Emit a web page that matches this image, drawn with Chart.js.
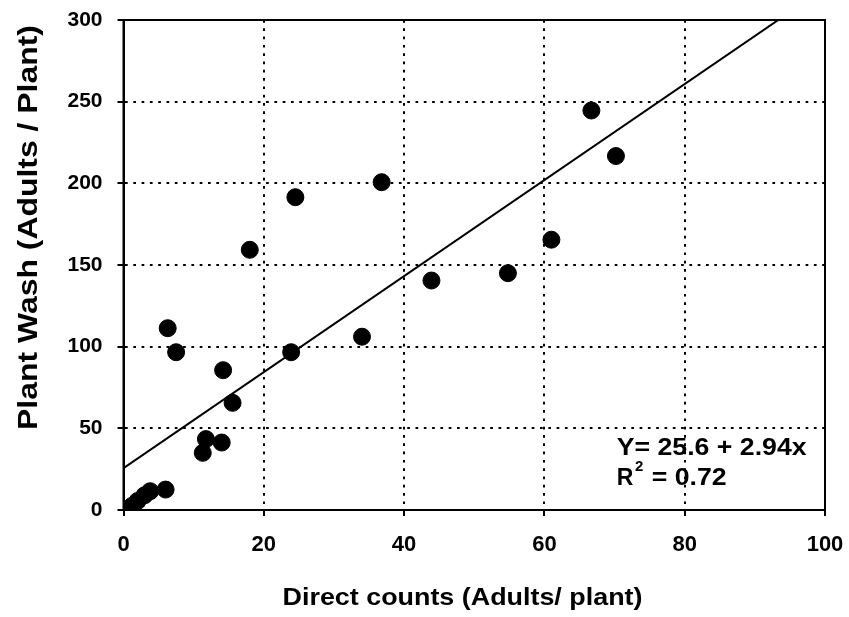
<!DOCTYPE html>
<html>
<head>
<meta charset="utf-8">
<title>Plant wash vs direct counts</title>
<script src="https://cdn.jsdelivr.net/npm/chart.js@4.4.1/dist/chart.umd.min.js"></script>
<style>
  html, body { margin: 0; padding: 0; background: #fff; }
  #wrap { width: 849px; height: 617px; }
</style>
</head>
<body>
<div id="wrap"><canvas id="scatter" width="849" height="617"></canvas></div>
<script>
// direct counts (x) and plant wash counts (y), one entry per sample
const directCounts = [1.2, 2.0, 3.0, 3.8, 6.0, 6.3, 7.5, 11.3, 11.75, 14.0, 14.2, 15.55, 18.0, 23.9, 24.5, 34.0, 36.8, 43.9, 54.8, 61.0, 66.7, 70.2];
const plantWash = [2.5, 5.5, 9, 11.5, 12.5, 111.3, 96.6, 35.0, 43.4, 41.3, 85.6, 65.6, 159.3, 96.6, 191.5, 106.1, 200.7, 140.5, 145.0, 165.5, 244.6, 216.7];

// fitted regression
const intercept = 25.6;
const slope = 2.94;
const rSquared = "0.72";

const xTicks = [0, 20, 40, 60, 80, 100];
const yTicks = [0, 50, 100, 150, 200, 250, 300];

const FONT = "'Liberation Sans', Arial, sans-serif";

const points = directCounts.map((x, i) => ({ x: x, y: plantWash[i] }));
const fitLine = [0, 100].map((x) => ({ x: x, y: intercept + slope * x }));

// text drawn a little wider than the font's own proportions
function wideText(ctx, text, x, y, size, stretch, align) {
  ctx.save();
  ctx.font = "bold " + size + "px " + FONT;
  ctx.translate(x, y);
  ctx.scale(stretch, 1);
  ctx.textAlign = align || "left";
  ctx.fillText(text, 0, 0);
  ctx.restore();
}

// frame, axis titles and the fit equation
const decorations = {
  id: "decorations",
  afterDraw(chart) {
    const ctx = chart.ctx;
    const a = chart.chartArea;
    ctx.save();
    ctx.strokeStyle = "#000";
    ctx.lineWidth = 2;
    ctx.strokeRect(a.left, a.top, a.right - a.left, a.bottom - a.top);

    ctx.fillStyle = "#000";
    ctx.textBaseline = "alphabetic";
    wideText(ctx, "Direct counts (Adults/ plant)", 462.5, 605, 24, 1.12, "center");

    ctx.save();
    ctx.translate(37, 227.5);
    ctx.rotate(-Math.PI / 2);
    wideText(ctx, "Plant Wash (Adults / Plant)", 0, 0, 28, 1.14, "center");
    ctx.restore();

    wideText(ctx, "Y= " + intercept + " + " + slope + "x", 616.7, 455, 23, 1.16);
    wideText(ctx, "R", 616.7, 485, 23, 1.0);
    wideText(ctx, "2", 635, 471, 15, 1.0);
    wideText(ctx, "= " + rSquared, 651.7, 485, 23, 1.16);
    ctx.restore();
  }
};

const gridStyle = {
  color: "#000",
  lineWidth: 2,
  tickLength: 6,
  tickColor: "#000",
  tickWidth: 2,
  tickBorderDash: []
};
const borderStyle = { display: true, color: "#000", width: 2, dash: [2.7, 5.6] };

new Chart(document.getElementById("scatter").getContext("2d"), {
  type: "scatter",
  data: {
    datasets: [
      {
        data: points,
        backgroundColor: "#000",
        borderColor: "#000",
        pointRadius: 8.5,
        pointHoverRadius: 8.5,
        order: 1
      },
      {
        type: "line",
        data: fitLine,
        borderColor: "#000",
        borderWidth: 2,
        pointRadius: 0,
        fill: false,
        order: 2
      }
    ]
  },
  options: {
    responsive: false,
    animation: false,
    events: [],
    layout: { padding: { left: 0, top: 20, right: 24, bottom: 0 } },
    plugins: {
      legend: { display: false },
      tooltip: { enabled: false }
    },
    scales: {
      x: {
        type: "linear",
        min: 0,
        max: 100,
        afterBuildTicks(scale) {
          scale.ticks = xTicks.map((v) => ({ value: v }));
        },
        afterFit(scale) {
          scale.height = 107;
          scale.paddingLeft = 0;
          scale.paddingRight = 0;
        },
        border: borderStyle,
        grid: gridStyle,
        ticks: {
          color: "#000",
          padding: 16,
          maxRotation: 0,
          font: { family: FONT, size: 22, weight: "bold" }
        }
      },
      y: {
        type: "linear",
        min: 0,
        max: 300,
        afterBuildTicks(scale) {
          scale.ticks = yTicks.map((v) => ({ value: v }));
        },
        afterFit(scale) {
          scale.width = 123.5;
          scale.paddingTop = 0;
          scale.paddingBottom = 0;
        },
        border: borderStyle,
        grid: gridStyle,
        ticks: {
          color: "#000",
          padding: 15,
          font: { family: FONT, size: 21, weight: "bold" }
        }
      }
    }
  },
  plugins: [decorations]
});
</script>
</body>
</html>
